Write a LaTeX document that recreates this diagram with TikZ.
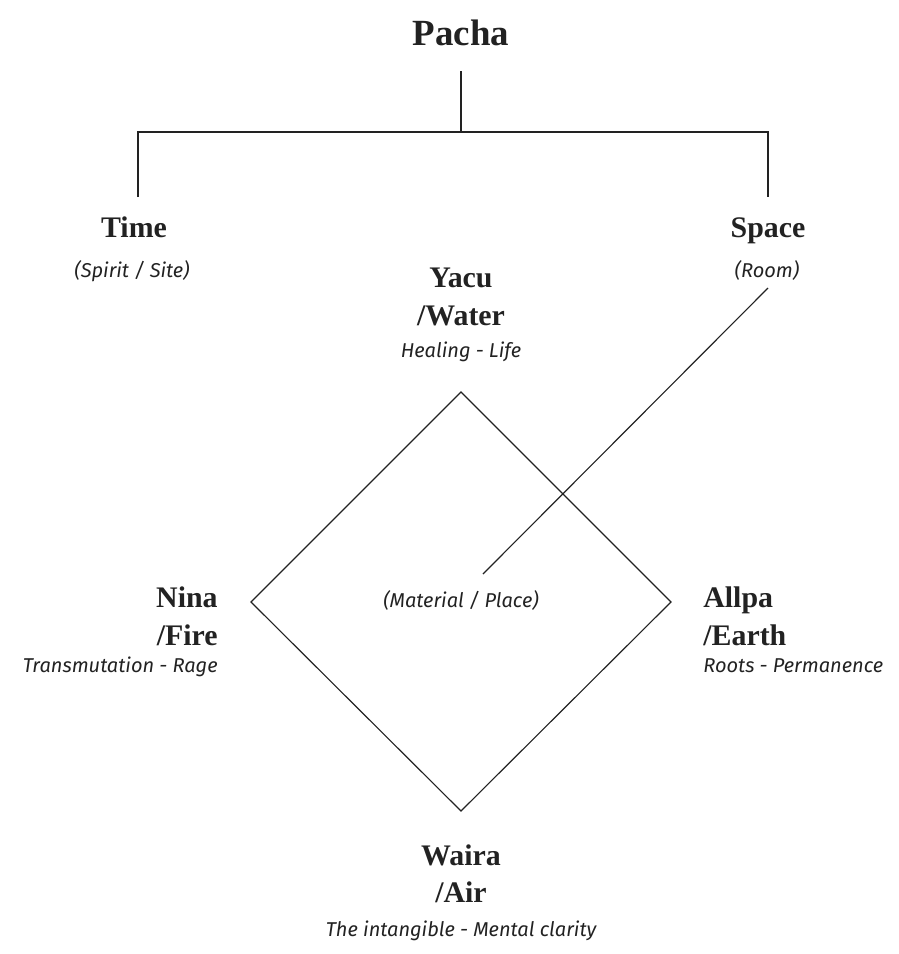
\documentclass[tikz,border=0pt]{standalone}
\usepackage{fontspec}
\usepackage{tikz}
\usetikzlibrary{calc,positioning}
\setmainfont{Liberation Serif}
\newfontfamily\noteFont{Fira Sans}
\definecolor{ink}{HTML}{222222}
\tikzset{
myTitle/.style={
	anchor=base, inner sep=0pt, text=ink,
	font=\fontsize{21}{25}\selectfont\bfseries
}
, myElem/.style={
	anchor=base, inner sep=0pt, text=ink,
	font=\fontsize{17}{20}\selectfont\bfseries
}
, myNote/.style={
	anchor=base, inner sep=0pt, text=ink,
	font=\noteFont\fontsize{11.4}{13}\selectfont\itshape
}
% link
, myLink/.style={draw=ink,line width=0.65pt}
}

\begin{document}
\begin{tikzpicture}[x=0.02cm,y=-0.02cm]
	\useasboundingbox (0,0) rectangle (899,954);
	% nodes
	\node[myTitle] (Pacha) at (461,45) {Pacha};
	\node[myElem] (Time) at (134,237) {Time};
	\node[myNote] (TimeNote) at (132,277) {(Spirit / Site)};
	\node[myElem] (Space) at (768,237) {Space};
	\node[myNote] (SpaceNote) at (767,277) {(Room)};
	% elements
	\node[myElem] (Yacu) at (461,287) {Yacu};
	\node[myElem] (YacuEn) at (461,325) {/Water};
	\node[myNote] (YacuNote) at (461,357) {Healing - Life};
	\node[myElem,anchor=base east] (Nina) at (218,607) {Nina};
	\node[myElem,anchor=base east] (NinaEn) at (218,645) {/Fire};
	\node[myNote,anchor=base east] (NinaNote) at (218,672) {Transmutation - Rage};
	\node[myElem,anchor=base west] (Allpa) at (703,607) {Allpa};
	\node[myElem,anchor=base west] (AllpaEn) at (703,645) {/Earth};
	\node[myNote,anchor=base west] (AllpaNote) at (703,672) {Roots - Permanence};
	\node[myElem] (Waira) at (461,865) {Waira};
	\node[myElem] (WairaEn) at (461,902) {/Air};
	\node[myNote] (WairaNote) at (461,936) {The intangible - Mental clarity};
	\node[myNote] (Place) at (461,607) {(Material / Place)};
	% tree ends
	\coordinate (PachaFoot) at (461,71);
	\coordinate (Fork) at (461,132);
	\coordinate (TimeFoot) at (138,197);
	\coordinate (SpaceFoot) at (768,197);
	\coordinate (RoomFoot) at (768,288);
	\coordinate (PlaceTop) at (483,574);
	% diamond corners
	\coordinate (Top) at (461,392);
	\coordinate (Right) at (671,602);
	\coordinate (Bottom) at (461,811);
	\coordinate (Left) at (251,602);
	% links
	\draw[myLink] (PachaFoot) -- (Fork);
	\draw[myLink] (TimeFoot) -- (TimeFoot |- Fork) -- (SpaceFoot |- Fork) -- (SpaceFoot);
	\draw[myLink] (Top) -- (Right) -- (Bottom) -- (Left) -- cycle;
	\draw[myLink] (RoomFoot) -- (PlaceTop);
\end{tikzpicture}
\end{document}
